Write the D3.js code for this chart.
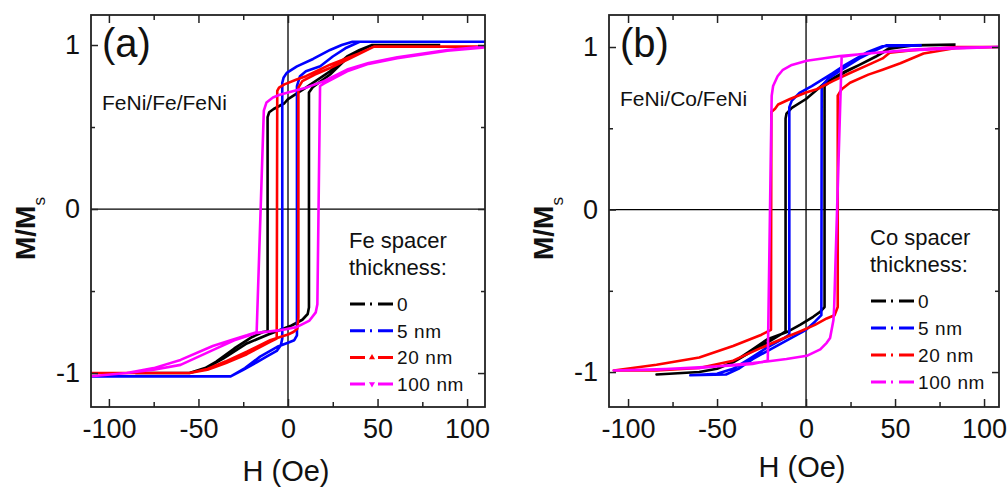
<!DOCTYPE html>
<html>
<head>
<meta charset="utf-8">
<script src="https://cdn.jsdelivr.net/npm/d3@7"></script>
<style>
  body { margin: 0; background: #fff; }
  text { font-family: "Liberation Sans", Arial, sans-serif; fill: #111; }
</style>
</head>
<body>
<div id="chart"></div>
<script>
// ** tick values **
var hTicks = [-100, -50, 0, 50, 100];
var hMinorTicks = [-75, -25, 25, 75];
var mTicks = [-1, 0, 1];
var mMinorTicks = [-0.5, 0.5];

var seriesLabels = ["0", "5 nm", "20 nm", "100 nm"];
var seriesColors = ["#000000", "#0000ff", "#ff0000", "#ff00ff"];
var markersFe = ["dot", "dot", "up", "down"];
var markersCo = ["dot", "dot", "dot", "dot"];

// ** panel (a) FeNi/Fe/FeNi loops, [H (Oe), M/Ms] **
var fe0 = [[85,1.0],[47,1.0],[40,0.97],[33,0.93],[23.5,0.84],[10,0.74],[0,0.67],[-2,0.645],[-8,0.61],[-10.5,0.59],[-11.4,0.56],
  [-11.4,-0.745],[-14,-0.75],[-20,-0.78],[-30,-0.85],[-40,-0.93],[-47,-0.975],[-55,-1.0],[-85,-1.0],
  [-55,-1.0],[-45,-0.965],[-36,-0.91],[-23,-0.82],[-11,-0.765],[2,-0.71],[8,-0.675],[11,-0.64],[11.7,-0.6],
  [11.7,0.71],[14,0.745],[23.5,0.82],[33,0.92],[40,0.965],[47,1.0],[85,1.0]];
var fe5 = [[110,1.02],[36,1.02],[30,1.0],[23.5,0.97],[14,0.915],[5,0.87],[-0.7,0.83],[-2.5,0.8],[-3.2,0.77],
  [-3.2,-0.79],[-4,-0.83],[-6.3,-0.865],[-12,-0.9],[-17.5,-0.935],[-25,-0.98],[-32,-1.02],[-110,-1.02],
  [-32,-1.02],[-24,-0.97],[-15.6,-0.9],[-6,-0.84],[0,-0.815],[3.5,-0.8],[5,-0.77],
  [5,0.75],[6.7,0.81],[10,0.84],[18,0.87],[25,0.93],[32,0.98],[40,1.02],[110,1.02]];
var fe20 = [[110,0.99],[48,0.99],[40,0.95],[23.5,0.88],[10,0.81],[4.8,0.79],[-2,0.76],[-5,0.74],[-6,0.72],
  [-6.3,-0.79],[-10,-0.81],[-23,-0.885],[-35,-0.94],[-45,-0.98],[-55,-1.0],[-110,-1.0],
  [-55,-1.0],[-45,-0.975],[-35,-0.93],[-23,-0.87],[-10,-0.8],[0,-0.765],[3,-0.75],[5.2,-0.73],[5.8,-0.66],
  [5.8,0.74],[8,0.78],[15,0.82],[23.5,0.86],[35,0.92],[48,0.99],[110,0.99]];
var fe100 = [[110,0.99],[89,0.97],[61,0.925],[45,0.89],[33,0.85],[20,0.78],[10,0.74],[0,0.71],[-5,0.695],[-8.4,0.68],[-12,0.65],[-13.5,0.6],
  [-17.5,-0.75],[-23,-0.77],[-32,-0.8],[-42,-0.835],[-60,-0.92],[-75,-0.97],[-90,-1.0],[-110,-1.02],
  [-90,-1.0],[-75,-0.98],[-60,-0.95],[-42,-0.86],[-30,-0.8],[-17.5,-0.755],[-5,-0.74],[4.8,-0.72],[12,-0.68],[15.5,-0.63],[16.4,-0.58],
  [17.9,0.75],[20,0.765],[33,0.84],[45,0.885],[61,0.92],[89,0.965],[110,0.985]];

// ** panel (b) FeNi/Co/FeNi loops **
var co0 = [[84,1.015],[60,1.01],[47,0.995],[39,0.94],[30,0.89],[22,0.85],[10.7,0.78],[0,0.68],[-8,0.625],[-11,0.59],[-11.5,0.56],
  [-11.5,-0.75],[-13,-0.76],[-22,-0.82],[-30,-0.87],[-41,-0.94],[-50,-0.98],[-60,-1.0],[-84,-1.015],
  [-60,-1.0],[-50,-0.98],[-41,-0.94],[-30,-0.86],[-22,-0.8],[-10,-0.75],[-3.4,-0.71],[4,-0.66],[7.9,-0.63],[10.4,-0.6],
  [10.4,0.76],[15,0.8],[22,0.845],[30,0.89],[39,0.94],[47,0.99],[60,1.01],[84,1.015]];
var co5 = [[65,1.01],[43,1.005],[34,0.966],[22,0.89],[15,0.84],[3.2,0.76],[-3.4,0.72],[-8,0.67],[-9.4,0.63],
  [-9.4,-0.77],[-12,-0.79],[-22,-0.85],[-32,-0.92],[-41,-0.98],[-50,-1.01],[-65,-1.02],
  [-45,-1.015],[-38,-0.98],[-30,-0.92],[-20,-0.86],[-10,-0.8],[0,-0.74],[5,-0.69],[8.6,-0.65],
  [8.8,0.76],[12,0.8],[20,0.86],[30,0.93],[39,0.98],[45,1.01],[65,1.01]];
var co20 = [[108,1.0],[85,1.0],[60,0.98],[47,0.965],[43,0.93],[35,0.89],[24.7,0.84],[15,0.79],[6,0.74],[0,0.72],[-9,0.68],[-15.7,0.646],[-17.4,0.62],[-19.5,0.6],
  [-19.7,-0.74],[-25,-0.77],[-41,-0.84],[-60,-0.91],[-84,-0.955],[-108,-0.99],
  [-84,-0.99],[-60,-0.975],[-41,-0.93],[-25,-0.85],[-10,-0.78],[-3.4,-0.75],[5,-0.71],[11.6,-0.67],[16,-0.65],[17.8,-0.6],
  [17.8,0.7],[20,0.74],[24.7,0.78],[35,0.83],[43,0.86],[53,0.9],[66,0.96],[85,0.995],[108,1.0]];
var co100 = [[108,1.0],[80,0.995],[60,0.985],[40,0.965],[19,0.945],[0.4,0.915],[-8,0.89],[-13,0.86],[-16,0.82],[-18.5,0.76],[-19.3,0.7],
  [-21.5,-0.93],[-30,-0.95],[-41,-0.96],[-60,-0.97],[-84,-0.985],[-108,-0.99],
  [-60,-0.975],[-30,-0.945],[-22,-0.935],[-11,-0.92],[0.4,-0.9],[8,-0.86],[11.6,-0.82],[13.5,-0.79],[15.4,-0.68],[15.8,-0.6],
  [20,0.94],[30,0.955],[45,0.97],[60,0.98],[80,0.99],[108,1.0]];

var svg = d3.select("#chart")
    .append("svg")
    .attr("width", 1007)
    .attr("height", 490);

function drawPanel(p) {
  var x = d3.scaleLinear().domain(p.hDomain).range([p.left, p.right]);
  var y = d3.scaleLinear().domain(p.mDomain).range([p.bottom, p.top]);
  var g = svg.append("g");

  svg.append("clipPath").attr("id", "clip-" + p.id)
    .append("rect")
    .attr("x", p.left).attr("y", p.top)
    .attr("width", p.right - p.left).attr("height", p.bottom - p.top);

  // zero lines
  g.append("line")
    .attr("x1", x(0)).attr("x2", x(0)).attr("y1", p.top).attr("y2", p.bottom)
    .attr("stroke", "#000").attr("stroke-width", 1.3);
  g.append("line")
    .attr("x1", p.left).attr("x2", p.right).attr("y1", y(0)).attr("y2", y(0))
    .attr("stroke", "#000").attr("stroke-width", 1.3);

  // loops
  var line = d3.line().x(d => x(d[0])).y(d => y(d[1]));
  g.append("g")
    .attr("clip-path", "url(#clip-" + p.id + ")")
    .selectAll("path")
    .data(p.loops)
    .enter()
    .append("path")
    .attr("d", line)
    .attr("fill", "none")
    .attr("stroke", (d, i) => seriesColors[i])
    .attr("stroke-width", 2.6)
    .attr("stroke-linejoin", "round");

  // axes, ticks pointing inward
  var fmt = d => String(d);
  var axes = [
    [d3.axisBottom(x).tickValues(hTicks).tickSizeInner(-8).tickPadding(12).tickFormat(fmt), `translate(0,${p.bottom})`],
    [d3.axisBottom(x).tickValues(hMinorTicks).tickSizeInner(-5).tickFormat(""), `translate(0,${p.bottom})`],
    [d3.axisTop(x).tickValues(hTicks).tickSizeInner(-8).tickFormat(""), `translate(0,${p.top})`],
    [d3.axisTop(x).tickValues(hMinorTicks).tickSizeInner(-5).tickFormat(""), `translate(0,${p.top})`],
    [d3.axisLeft(y).tickValues(mTicks).tickSizeInner(-7).tickPadding(11).tickFormat(fmt), `translate(${p.left},0)`],
    [d3.axisLeft(y).tickValues(mMinorTicks).tickSizeInner(-4).tickFormat(""), `translate(${p.left},0)`],
    [d3.axisRight(y).tickValues(mTicks).tickSizeInner(-7).tickFormat(""), `translate(${p.right},0)`],
    [d3.axisRight(y).tickValues(mMinorTicks).tickSizeInner(-4).tickFormat(""), `translate(${p.right},0)`]
  ];
  axes.forEach(function(a) {
    var ag = g.append("g").attr("transform", a[1]).call(a[0].tickSizeOuter(0));
    ag.select(".domain").remove();
    ag.selectAll("line").attr("stroke", "#222").attr("stroke-width", 1.5);
    ag.selectAll("text")
      .attr("font-size", 27)
      .attr("font-family", "'Liberation Sans', Arial, sans-serif")
      .attr("fill", "#111");
  });

  // frame
  g.append("rect")
    .attr("x", p.left).attr("y", p.top)
    .attr("width", p.right - p.left).attr("height", p.bottom - p.top)
    .attr("fill", "none").attr("stroke", "#222").attr("stroke-width", 1.8);

  // axis titles
  g.append("text")
    .attr("x", (p.left + p.right) / 2 - 2)
    .attr("y", p.xTitleY)
    .attr("text-anchor", "middle")
    .attr("font-size", 29)
    .text("H (Oe)");
  var yt = g.append("text")
    .attr("transform", `translate(${p.left - 56}, ${p.bottom - 147}) rotate(-90)`)
    .attr("font-size", 28)
    .attr("font-weight", "bold");
  yt.append("tspan").text("M/M");
  yt.append("tspan").attr("dy", 10).attr("font-size", 17).attr("font-weight", "normal").text("s");

  // panel tag and sample name
  g.append("text")
    .attr("x", p.left + 11).attr("y", 57)
    .attr("font-size", 40)
    .text(p.tag);
  g.append("text")
    .attr("x", p.left + 11).attr("y", p.sampleY)
    .attr("font-size", 21)
    .text(p.sample);

  // legend
  var lx = p.legendX, ly = p.legendY;
  g.append("text").attr("x", lx).attr("y", ly).attr("font-size", 22).text(p.legendTitle[0]);
  g.append("text").attr("x", lx).attr("y", ly + 27).attr("font-size", 22).text(p.legendTitle[1]);
  seriesLabels.forEach(function(label, i) {
    var cy = ly + 56 + i * p.legendStep;
    var mk = p.markers[i];
    g.append("line")
      .attr("x1", lx + 1).attr("x2", lx + 44)
      .attr("y1", cy).attr("y2", cy)
      .attr("stroke", seriesColors[i])
      .attr("stroke-width", 3)
      .attr("stroke-dasharray", mk === "dot" ? "15,5,2,6,15" : "15,13,15");
    if (mk !== "dot") {
      g.append("path")
        .attr("d", d3.symbol(d3.symbolTriangle).size(16))
        .attr("transform", `translate(${lx + 23}, ${cy}) rotate(${mk === "down" ? 180 : 0})`)
        .attr("fill", seriesColors[i]);
    }
    g.append("text")
      .attr("x", lx + 48).attr("y", cy + 7)
      .attr("font-size", 19)
      .attr("letter-spacing", 0.6)
      .text(label);
  });
}

drawPanel({
  id: "a", left: 91, right: 485, top: 15, bottom: 407,
  hDomain: [-110, 110], mDomain: [-1.207, 1.183],
  loops: [fe0, fe5, fe20, fe100], markers: markersFe,
  tag: "(a)", sample: "FeNi/Fe/FeNi", sampleY: 110,
  legendTitle: ["Fe spacer", "thickness:"], legendX: 349, legendY: 248, legendStep: 26.7,
  xTitleY: 481
});
drawPanel({
  id: "b", left: 609, right: 999, top: 15, bottom: 407,
  hDomain: [-110.7, 108.4], mDomain: [-1.215, 1.197],
  loops: [co0, co5, co20, co100], markers: markersCo,
  tag: "(b)", sample: "FeNi/Co/FeNi", sampleY: 106,
  legendTitle: ["Co spacer", "thickness:"], legendX: 870, legendY: 245, legendStep: 27,
  xTitleY: 477
});
</script>
</body>
</html>
